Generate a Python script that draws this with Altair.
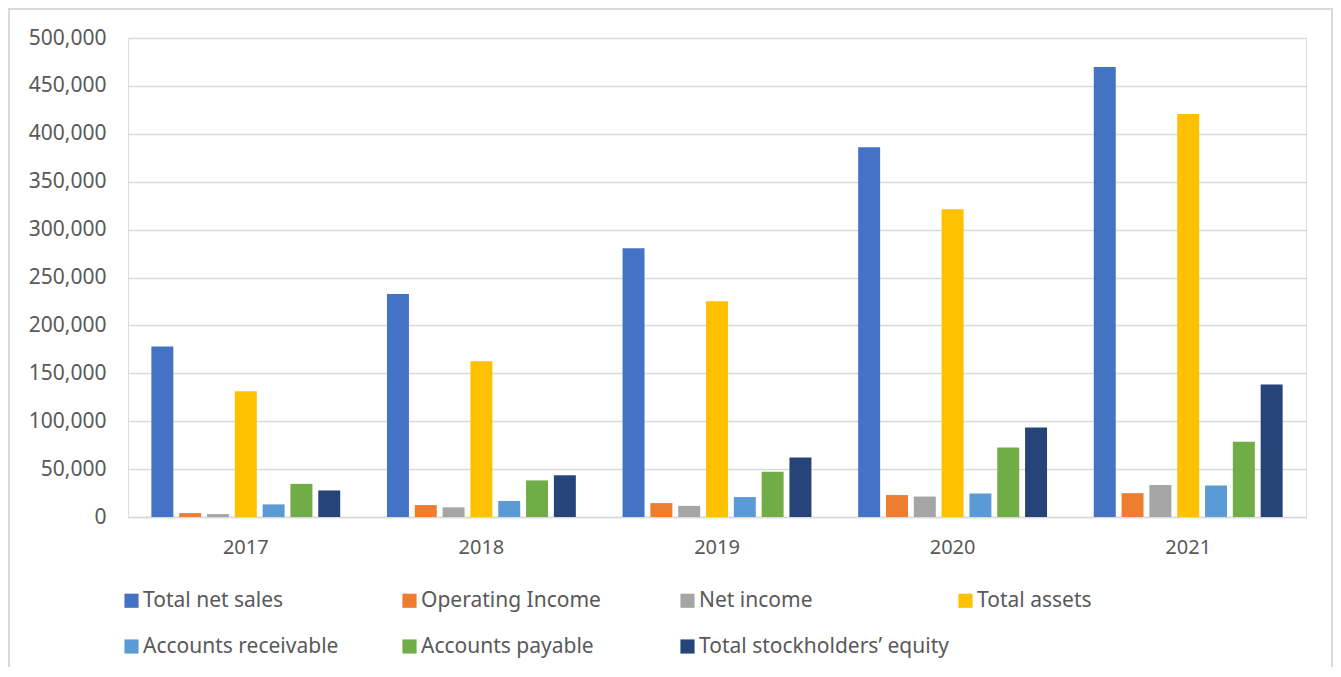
import altair as alt
import pandas as pd

years = ["2017", "2018", "2019", "2020", "2021"]
series = ["Total net sales", "Operating Income", "Net income", "Total assets",
          "Accounts receivable", "Accounts payable", "Total stockholders\u2019 equity"]
total_net_sales = [177866, 232887, 280522, 386064, 469822]
operating_income = [4106, 12421, 14541, 22899, 24879]
net_income = [3033, 10073, 11588, 21331, 33364]
total_assets = [131310, 162648, 225248, 321195, 420549]
accounts_receivable = [13164, 16677, 20816, 24542, 32891]
accounts_payable = [34616, 38192, 47183, 72539, 78664]
stockholders_equity = [27709, 43549, 62060, 93404, 138245]
colors = ["#4472C4", "#ED7D31", "#A5A5A5", "#FFC000", "#5B9BD5", "#70AD47", "#264478"]

values = [total_net_sales, operating_income, net_income, total_assets,
          accounts_receivable, accounts_payable, stockholders_equity]
rows = []
for s, vals in zip(series, values):
    for y, v in zip(years, vals):
        rows.append({"Year": y, "Series": s, "Value": v})
df = pd.DataFrame(rows)

FONT = "Noto Sans"
TXT = "#595959"
GRID = "#D9D9D9"

bars = alt.Chart(df).mark_bar().encode(
    x=alt.X("Year:N", sort=years, title=None,
            scale=alt.Scale(paddingInner=0, paddingOuter=0),
            axis=alt.Axis(labelAngle=0, ticks=False, domainColor=GRID, domainWidth=1.5,
                          labelFont=FONT, labelFontSize=20, labelColor=TXT, labelPadding=20)),
    xOffset=alt.XOffset("Series:N", sort=series,
                        scale=alt.Scale(paddingInner=0.21, paddingOuter=0.84)),
    y=alt.Y("Value:Q", title=None,
            scale=alt.Scale(domain=[0, 500000], nice=False),
            axis=alt.Axis(values=list(range(0, 500001, 50000)), format=",.0f", ticks=False,
                          domain=False, gridColor=GRID, gridWidth=1.5,
                          labelFont=FONT, labelFontSize=21, labelColor=TXT, labelPadding=22)),
    color=alt.Color("Series:N", sort=series,
                    scale=alt.Scale(domain=series, range=colors),
                    legend=alt.Legend(title=None, orient="none", legendX=-7, legendY=552,
                                      direction="horizontal",
                                      columns=4, symbolType="square", symbolSize=200,
                                      symbolStrokeWidth=0, symbolOpacity=1,
                                      labelFont=FONT, labelFontSize=21, labelColor=TXT,
                                      labelLimit=400, gridAlign="all", columnPadding=6,
                                      rowPadding=24, symbolOffset=0, labelOffset=1)),
)

frame = alt.Chart(df).mark_rect(fill=None, stroke=GRID, strokeWidth=2, clip=False).encode(
    x=alt.value(-119), x2=alt.value(1204), y=alt.value(-29), y2=alt.value(700)
)

chart = alt.layer(frame, bars).properties(
    width=1178, height=479,
    padding={"left": 120, "top": 30, "right": 27, "bottom": 150},
    autosize=alt.AutoSizeParams(type="none"),
).configure_view(stroke=None).configure(background="white")

chart.save("out.html", embed_options={"renderer": "svg", "actions": False})
